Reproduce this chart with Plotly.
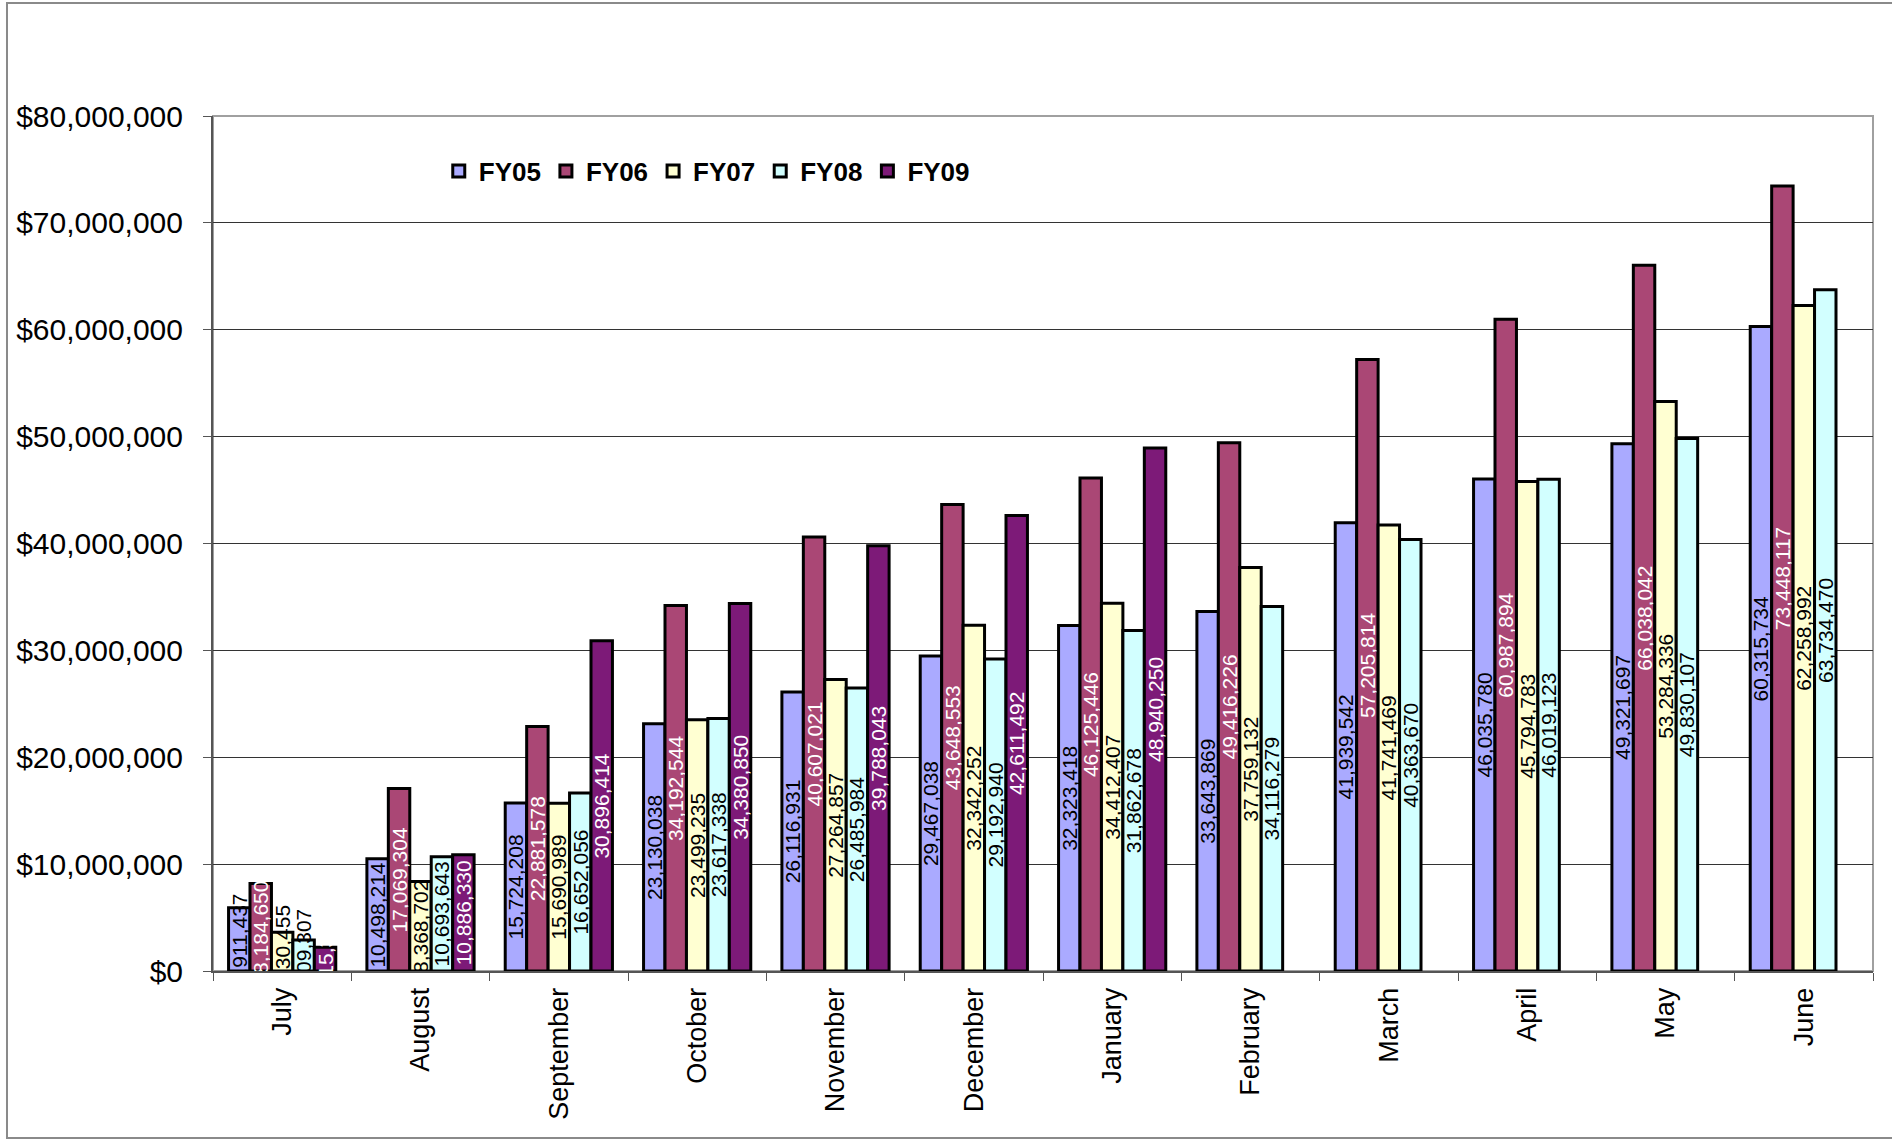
import plotly.graph_objects as go

# monthly cumulative totals by fiscal year
months = ["July", "August", "September", "October", "November", "December",
          "January", "February", "March", "April", "May", "June"]

fy05 = [5911437, 10498214, 15724208, 23130038, 26116931, 29467038,
        32323418, 33643869, 41939542, 46035780, 49321697, 60315734]
fy06 = [8184650, 17069304, 22881578, 34192544, 40607021, 43648553,
        46125446, 49416226, 57205814, 60987894, 66038042, 73448117]
fy07 = [3630455, 8368702, 15690989, 23499235, 27264857, 32342252,
        34412407, 37759132, 41741469, 45794783, 53284336, 62258992]
fy08 = [2909307, 10693643, 16652056, 23617338, 26485984, 29192940,
        31862678, 34116279, 40363670, 46019123, 49830107, 63734470]
fy09 = [2215380, 10886330, 30896414, 34380850, 39788043, 42611492,
        48940250, None, None, None, None, None]

series = [
    ("FY05", fy05, "#AAAAFF", "black"),
    ("FY06", fy06, "#AA4775", "white"),
    ("FY07", fy07, "#FFFFD2", "black"),
    ("FY08", fy08, "#D2FFFF", "black"),
    ("FY09", fy09, "#7D1A78", "white"),
]

FONT = "Liberation Sans, Arial, sans-serif"

fig = go.Figure()
for name, vals, color, txtcolor in series:
    fig.add_trace(go.Bar(
        x=months, y=vals, name=name,
        marker=dict(color=color, line=dict(color="black", width=3)),
        texttemplate="%{y:,.0f}",
        textposition="inside",
        insidetextanchor="middle",
        textangle=-90,
        textfont=dict(family=FONT, size=21, color=txtcolor),
        hoverinfo="x+y+name",
    ))

# plot area border (grey) and outer chart border
fig.add_shape(type="rect", xref="paper", yref="paper", x0=0, x1=1, y0=0, y1=1,
              line=dict(color="#A0A0A0", width=2), layer="below")
fig.add_shape(type="rect", xref="paper", yref="paper",
              x0=-0.1241, x1=1.03, y0=-0.1953, y1=1.1322,
              line=dict(color="#8A8A8A", width=2))

fig.update_layout(
    width=1892, height=1139,
    margin=dict(l=213, r=19, t=116, b=168),
    paper_bgcolor="white", plot_bgcolor="white",
    barmode="group", bargap=0.225, bargroupgap=0,
    font=dict(family=FONT, color="black"),
    uniformtext=dict(minsize=21, mode="show"),
    showlegend=True,
    legend=dict(
        orientation="h", x=0.136, y=0.9357, xanchor="left", yanchor="middle",
        font=dict(family=FONT, size=26, color="black", weight="bold"),
        bgcolor="rgba(0,0,0,0)", itemwidth=30,
    ),
    xaxis=dict(
        type="category", tickangle=-90, tickson="boundaries",
        ticks="outside", ticklen=8, tickcolor="#555555",
        showline=True, linecolor="#555555", linewidth=2,
        tickfont=dict(family=FONT, size=27, color="black"),
        ticklabelstandoff=4,
        showgrid=False,
    ),
    yaxis=dict(
        range=[0, 80000000], dtick=10000000, tick0=0,
        tickprefix="$", tickformat=",d",
        ticks="outside", ticklen=8, tickcolor="#555555",
        showline=True, linecolor="#555555", linewidth=2,
        gridcolor="#333333", gridwidth=1,
        tickfont=dict(family=FONT, size=30, color="black"),
        ticklabelstandoff=14,
        zeroline=False,
    ),
)

fig.write_html("out.html", config={"displayModeBar": False},
               post_script="document.body.style.margin='0';")
